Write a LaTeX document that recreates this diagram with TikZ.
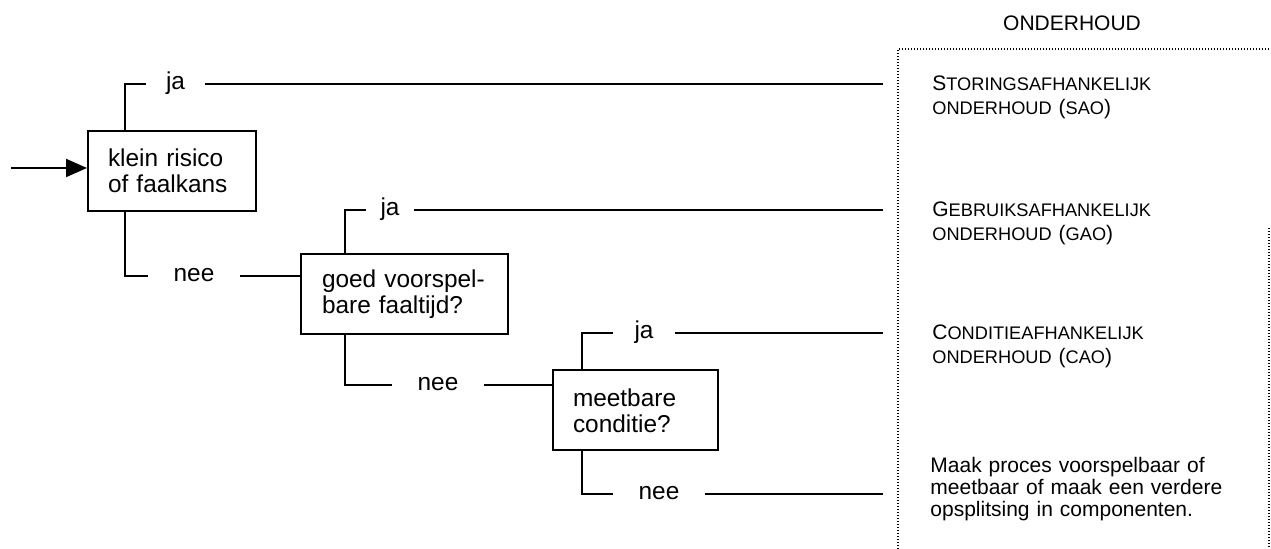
\documentclass[tikz,border=0pt]{standalone}
\usepackage{fontspec}
\setmainfont{Liberation Sans}
\usetikzlibrary{arrows.meta}
% reduced capitals for the small-caps look of the outcome names
\newcommand\smallcaps[1]{{\fontsize{9.1pt}{12pt}\selectfont #1}}
\begin{document}
\begin{tikzpicture}[x=0.5pt,y=-0.5pt,
  every node/.style={font=\fontsize{10.5pt}{12pt}\selectfont},
  big/.style={font=\fontsize{12.2pt}{13pt}\selectfont},
  wire/.style={line width=1pt},
  box/.style={big,draw,line width=1pt,align=left,inner xsep=10pt,inner ysep=0pt,minimum height=40pt},
  lab/.style={big,inner sep=0pt,text height=1ex,text depth=0pt,anchor=center},
  res/.style={anchor=base west,inner sep=0pt,text width=165pt,align=left},
  frame/.style={line width=0.8pt,dash pattern=on 0.6pt off 0.9pt}]
\useasboundingbox (0,0) rectangle (1271,549);

% decision boxes
\node[box,text width=64pt] (b1) at (172,171) {klein risico\\of faalkans};
\node[box,text width=82.5pt,inner xsep=10.5pt] (b2) at (404.5,294.5) {goed voorspel-\\bare faaltijd?};
\node[box,text width=62.5pt] (b3) at (635.5,410.5) {meetbare\\conditie?};

% branch labels
\node[lab,minimum width=29.5pt] (ja1) at (175.5,84) {ja};
\node[lab,minimum width=46pt] (nee1) at (194,276) {nee};
\node[lab,minimum width=24pt] (ja2) at (390,210) {ja};
\node[lab,minimum width=46pt] (nee2) at (438,385) {nee};
\node[lab,minimum width=31pt] (ja3) at (644,333) {ja};
\node[lab,minimum width=46pt] (nee3) at (659,494) {nee};

% line ends in front of the outcome column
\coordinate (in) at (11,168);
\coordinate (e1) at (883,84);
\coordinate (e2) at (883,210);
\coordinate (e3) at (883,333);
\coordinate (e4) at (883,494);

% connectors
\draw[wire,-{Triangle[length=10.5pt,width=9pt]}] (in) -- (in -| b1.west);
\draw[wire] ([xshift=19pt]b1.north west) |- (ja1.west);
\draw[wire] (ja1.east) -- (e1);
\draw[wire] ([xshift=19pt]b1.south west) |- (nee1.west);
\draw[wire] (nee1.east) -- (nee1.east -| b2.west);
\draw[wire] ([xshift=22.5pt]b2.north west) |- (ja2.west);
\draw[wire] (ja2.east) -- (e2);
\draw[wire] ([xshift=22.5pt]b2.south west) |- (nee2.west);
\draw[wire] (nee2.east) -- (nee2.east -| b3.west);
\draw[wire] ([xshift=15pt]b3.north west) |- (ja3.west);
\draw[wire] (ja3.east) -- (e3);
\draw[wire] ([xshift=15pt]b3.south west) |- (nee3.west);
\draw[wire] (nee3.east) -- (e4);

% outcome column
\draw[frame] (898,549) -- (898,49) -- (1271,49);
\draw[frame] (1269,228) -- (1269,549);
\node (title) at (1072,23) {ONDERHOUD};
\node[res] (r1) at (932,91) {S\smallcaps{TORINGSAFHANKELIJK}\\\smallcaps{ONDERHOUD }(\smallcaps{SAO})};
\node[res] (r2) at (932,217) {G\smallcaps{EBRUIKSAFHANKELIJK}\\\smallcaps{ONDERHOUD }(\smallcaps{GAO})};
\node[res] (r3) at (932,340) {C\smallcaps{ONDITIEAFHANKELIJK}\\\smallcaps{ONDERHOUD }(\smallcaps{CAO})};
\node[res,font=\fontsize{10.5pt}{11pt}\selectfont] (r4) at (930,473) {Maak proces voorspelbaar of\\meetbaar of maak een verdere\\opsplitsing in componenten.};
\end{tikzpicture}
\end{document}
